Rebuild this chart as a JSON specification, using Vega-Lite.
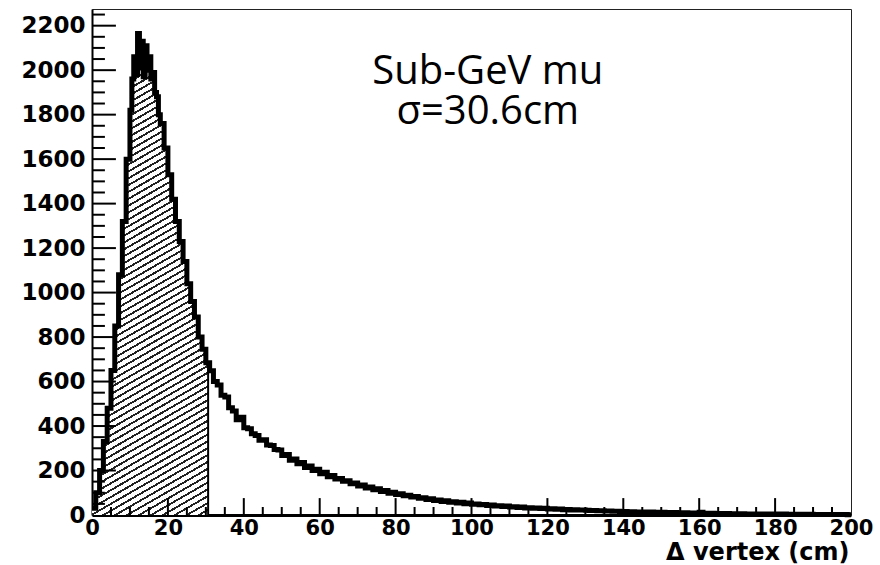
{
  "$schema": "https://vega.github.io/schema/vega-lite/v6.json",
  "width": 759,
  "height": 506,
  "autosize": {"type": "none"},
  "padding": {"left": 92, "top": 9, "right": 29, "bottom": 50},
  "background": "white",
  "config": {
    "view": {"stroke": "#222", "strokeWidth": 1},
    "axis": {"grid": false},
    "rule": {"color": "#000", "strokeWidth": 2}
  },
  "data": {"values": [
      {"d": 0, "n": 30}, {"d": 1, "n": 100}, {"d": 2, "n": 200}, {"d": 3, "n": 330}, {"d": 4, "n": 480},
      {"d": 5, "n": 650}, {"d": 6, "n": 850}, {"d": 7, "n": 1080}, {"d": 8, "n": 1320}, {"d": 9, "n": 1600},
      {"d": 10, "n": 1820}, {"d": 10.5, "n": 1960}, {"d": 11, "n": 2060}, {"d": 11.5, "n": 1980},
      {"d": 12, "n": 2165}, {"d": 12.5, "n": 2010}, {"d": 13, "n": 2130}, {"d": 13.5, "n": 1970},
      {"d": 14, "n": 2110}, {"d": 14.5, "n": 2000}, {"d": 15, "n": 2060}, {"d": 15.5, "n": 1960},
      {"d": 16, "n": 1990}, {"d": 16.5, "n": 1900}, {"d": 17, "n": 1880}, {"d": 17.5, "n": 1800},
      {"d": 18, "n": 1760}, {"d": 19, "n": 1650}, {"d": 20, "n": 1530}, {"d": 21, "n": 1420},
      {"d": 22, "n": 1320}, {"d": 23, "n": 1230}, {"d": 24, "n": 1140}, {"d": 25, "n": 1040},
      {"d": 26, "n": 960}, {"d": 27, "n": 890}, {"d": 28, "n": 800}, {"d": 29, "n": 745},
      {"d": 30, "n": 685}, {"d": 30.6, "n": 685}, {"d": 31, "n": 648}, {"d": 32, "n": 600},
      {"d": 33, "n": 585}, {"d": 34, "n": 538}, {"d": 35, "n": 530}, {"d": 36, "n": 482},
      {"d": 37, "n": 468}, {"d": 38, "n": 428}, {"d": 39, "n": 440}, {"d": 40, "n": 392},
      {"d": 41, "n": 388}, {"d": 42, "n": 365}, {"d": 43, "n": 358}, {"d": 44, "n": 336},
      {"d": 45, "n": 338}, {"d": 46, "n": 315}, {"d": 47, "n": 312}, {"d": 48, "n": 294},
      {"d": 49, "n": 292}, {"d": 50, "n": 268}, {"d": 51, "n": 272}, {"d": 52, "n": 246},
      {"d": 53, "n": 252}, {"d": 54, "n": 230}, {"d": 55, "n": 236}, {"d": 56, "n": 214},
      {"d": 57, "n": 220}, {"d": 58, "n": 200}, {"d": 59, "n": 206}, {"d": 60, "n": 186},
      {"d": 61, "n": 192}, {"d": 62, "n": 172}, {"d": 63, "n": 178}, {"d": 64, "n": 162},
      {"d": 65, "n": 164}, {"d": 66, "n": 152}, {"d": 67, "n": 154}, {"d": 68, "n": 141},
      {"d": 69, "n": 144}, {"d": 70, "n": 130}, {"d": 71, "n": 135}, {"d": 72, "n": 121},
      {"d": 73, "n": 126}, {"d": 74, "n": 114}, {"d": 75, "n": 118}, {"d": 76, "n": 106},
      {"d": 77, "n": 110}, {"d": 78, "n": 98}, {"d": 79, "n": 102}, {"d": 80, "n": 92},
      {"d": 81, "n": 95}, {"d": 82, "n": 86}, {"d": 83, "n": 89}, {"d": 84, "n": 81},
      {"d": 85, "n": 83}, {"d": 86, "n": 75}, {"d": 87, "n": 78}, {"d": 88, "n": 70},
      {"d": 89, "n": 73}, {"d": 90, "n": 65}, {"d": 91, "n": 68}, {"d": 92, "n": 61},
      {"d": 93, "n": 64}, {"d": 94, "n": 57}, {"d": 95, "n": 60}, {"d": 96, "n": 54},
      {"d": 97, "n": 57}, {"d": 98, "n": 51}, {"d": 99, "n": 54}, {"d": 100, "n": 48},
      {"d": 101, "n": 50}, {"d": 102, "n": 46}, {"d": 103, "n": 47}, {"d": 104, "n": 43},
      {"d": 105, "n": 45}, {"d": 106, "n": 40}, {"d": 107, "n": 42}, {"d": 108, "n": 38},
      {"d": 109, "n": 40}, {"d": 110, "n": 36}, {"d": 111, "n": 37}, {"d": 112, "n": 34},
      {"d": 113, "n": 36}, {"d": 114, "n": 32}, {"d": 115, "n": 33}, {"d": 116, "n": 30},
      {"d": 117, "n": 32}, {"d": 118, "n": 29}, {"d": 119, "n": 30}, {"d": 120, "n": 27},
      {"d": 121, "n": 28}, {"d": 122, "n": 26}, {"d": 123, "n": 27}, {"d": 124, "n": 24},
      {"d": 125, "n": 25}, {"d": 126, "n": 23}, {"d": 127, "n": 24}, {"d": 128, "n": 22},
      {"d": 129, "n": 23}, {"d": 130, "n": 21}, {"d": 131, "n": 20}, {"d": 132, "n": 20},
      {"d": 133, "n": 19}, {"d": 134, "n": 19}, {"d": 135, "n": 18}, {"d": 136, "n": 18},
      {"d": 137, "n": 17}, {"d": 138, "n": 17}, {"d": 139, "n": 16}, {"d": 140, "n": 16},
      {"d": 141, "n": 15}, {"d": 142, "n": 15}, {"d": 143, "n": 14}, {"d": 144, "n": 14},
      {"d": 145, "n": 14}, {"d": 146, "n": 13}, {"d": 147, "n": 13}, {"d": 148, "n": 12},
      {"d": 149, "n": 12}, {"d": 150, "n": 12}, {"d": 151, "n": 11}, {"d": 152, "n": 11},
      {"d": 153, "n": 11}, {"d": 154, "n": 10}, {"d": 155, "n": 10}, {"d": 156, "n": 10},
      {"d": 157, "n": 9}, {"d": 158, "n": 9}, {"d": 159, "n": 9}, {"d": 160, "n": 12},
      {"d": 161, "n": 8}, {"d": 162, "n": 8}, {"d": 163, "n": 8}, {"d": 164, "n": 7},
      {"d": 165, "n": 7}, {"d": 166, "n": 7}, {"d": 167, "n": 7}, {"d": 168, "n": 6},
      {"d": 169, "n": 6}, {"d": 170, "n": 6}, {"d": 171, "n": 6}, {"d": 172, "n": 5},
      {"d": 173, "n": 5}, {"d": 174, "n": 5}, {"d": 175, "n": 5}, {"d": 176, "n": 5},
      {"d": 177, "n": 4}, {"d": 178, "n": 4}, {"d": 179, "n": 4}, {"d": 180, "n": 4},
      {"d": 181, "n": 4}, {"d": 182, "n": 4}, {"d": 183, "n": 3}, {"d": 184, "n": 3},
      {"d": 185, "n": 3}, {"d": 186, "n": 3}, {"d": 187, "n": 3}, {"d": 188, "n": 3},
      {"d": 189, "n": 3}, {"d": 190, "n": 2}, {"d": 191, "n": 2}, {"d": 192, "n": 2},
      {"d": 193, "n": 2}, {"d": 194, "n": 2}, {"d": 195, "n": 2}, {"d": 196, "n": 2},
      {"d": 197, "n": 2}, {"d": 198, "n": 2}, {"d": 199, "n": 1}, {"d": 200, "n": 1}
  ]},
  "layer": [
    {
      "transform": [{"filter": "datum.d <= 30.6"}],
      "mark": {
        "type": "area",
        "interpolate": "step-after",
        "fill": {
          "gradient": "linear",
          "x1": 0, "y1": 0, "x2": 0.155, "y2": 1.118,
          "stops": [
            {"offset":0,"color":"#222"},{"offset":0.004,"color":"#222"},{"offset":0.004,"color":"#fff"},{"offset":0.0125,"color":"#fff"},
            {"offset":0.0125,"color":"#222"},{"offset":0.0165,"color":"#222"},{"offset":0.0165,"color":"#fff"},{"offset":0.025,"color":"#fff"},
            {"offset":0.025,"color":"#222"},{"offset":0.029,"color":"#222"},{"offset":0.029,"color":"#fff"},{"offset":0.0375,"color":"#fff"},
            {"offset":0.0375,"color":"#222"},{"offset":0.0415,"color":"#222"},{"offset":0.0415,"color":"#fff"},{"offset":0.05,"color":"#fff"},
            {"offset":0.05,"color":"#222"},{"offset":0.054,"color":"#222"},{"offset":0.054,"color":"#fff"},{"offset":0.0625,"color":"#fff"},
            {"offset":0.0625,"color":"#222"},{"offset":0.0665,"color":"#222"},{"offset":0.0665,"color":"#fff"},{"offset":0.075,"color":"#fff"},
            {"offset":0.075,"color":"#222"},{"offset":0.079,"color":"#222"},{"offset":0.079,"color":"#fff"},{"offset":0.0875,"color":"#fff"},
            {"offset":0.0875,"color":"#222"},{"offset":0.0915,"color":"#222"},{"offset":0.0915,"color":"#fff"},{"offset":0.1,"color":"#fff"},
            {"offset":0.1,"color":"#222"},{"offset":0.104,"color":"#222"},{"offset":0.104,"color":"#fff"},{"offset":0.1125,"color":"#fff"},
            {"offset":0.1125,"color":"#222"},{"offset":0.1165,"color":"#222"},{"offset":0.1165,"color":"#fff"},{"offset":0.125,"color":"#fff"},
            {"offset":0.125,"color":"#222"},{"offset":0.129,"color":"#222"},{"offset":0.129,"color":"#fff"},{"offset":0.1375,"color":"#fff"},
            {"offset":0.1375,"color":"#222"},{"offset":0.1415,"color":"#222"},{"offset":0.1415,"color":"#fff"},{"offset":0.15,"color":"#fff"},
            {"offset":0.15,"color":"#222"},{"offset":0.154,"color":"#222"},{"offset":0.154,"color":"#fff"},{"offset":0.1625,"color":"#fff"},
            {"offset":0.1625,"color":"#222"},{"offset":0.1665,"color":"#222"},{"offset":0.1665,"color":"#fff"},{"offset":0.175,"color":"#fff"},
            {"offset":0.175,"color":"#222"},{"offset":0.179,"color":"#222"},{"offset":0.179,"color":"#fff"},{"offset":0.1875,"color":"#fff"},
            {"offset":0.1875,"color":"#222"},{"offset":0.1915,"color":"#222"},{"offset":0.1915,"color":"#fff"},{"offset":0.2,"color":"#fff"},
            {"offset":0.2,"color":"#222"},{"offset":0.204,"color":"#222"},{"offset":0.204,"color":"#fff"},{"offset":0.2125,"color":"#fff"},
            {"offset":0.2125,"color":"#222"},{"offset":0.2165,"color":"#222"},{"offset":0.2165,"color":"#fff"},{"offset":0.225,"color":"#fff"},
            {"offset":0.225,"color":"#222"},{"offset":0.229,"color":"#222"},{"offset":0.229,"color":"#fff"},{"offset":0.2375,"color":"#fff"},
            {"offset":0.2375,"color":"#222"},{"offset":0.2415,"color":"#222"},{"offset":0.2415,"color":"#fff"},{"offset":0.25,"color":"#fff"},
            {"offset":0.25,"color":"#222"},{"offset":0.254,"color":"#222"},{"offset":0.254,"color":"#fff"},{"offset":0.2625,"color":"#fff"},
            {"offset":0.2625,"color":"#222"},{"offset":0.2665,"color":"#222"},{"offset":0.2665,"color":"#fff"},{"offset":0.275,"color":"#fff"},
            {"offset":0.275,"color":"#222"},{"offset":0.279,"color":"#222"},{"offset":0.279,"color":"#fff"},{"offset":0.2875,"color":"#fff"},
            {"offset":0.2875,"color":"#222"},{"offset":0.2915,"color":"#222"},{"offset":0.2915,"color":"#fff"},{"offset":0.3,"color":"#fff"},
            {"offset":0.3,"color":"#222"},{"offset":0.304,"color":"#222"},{"offset":0.304,"color":"#fff"},{"offset":0.3125,"color":"#fff"},
            {"offset":0.3125,"color":"#222"},{"offset":0.3165,"color":"#222"},{"offset":0.3165,"color":"#fff"},{"offset":0.325,"color":"#fff"},
            {"offset":0.325,"color":"#222"},{"offset":0.329,"color":"#222"},{"offset":0.329,"color":"#fff"},{"offset":0.3375,"color":"#fff"},
            {"offset":0.3375,"color":"#222"},{"offset":0.3415,"color":"#222"},{"offset":0.3415,"color":"#fff"},{"offset":0.35,"color":"#fff"},
            {"offset":0.35,"color":"#222"},{"offset":0.354,"color":"#222"},{"offset":0.354,"color":"#fff"},{"offset":0.3625,"color":"#fff"},
            {"offset":0.3625,"color":"#222"},{"offset":0.3665,"color":"#222"},{"offset":0.3665,"color":"#fff"},{"offset":0.375,"color":"#fff"},
            {"offset":0.375,"color":"#222"},{"offset":0.379,"color":"#222"},{"offset":0.379,"color":"#fff"},{"offset":0.3875,"color":"#fff"},
            {"offset":0.3875,"color":"#222"},{"offset":0.3915,"color":"#222"},{"offset":0.3915,"color":"#fff"},{"offset":0.4,"color":"#fff"},
            {"offset":0.4,"color":"#222"},{"offset":0.404,"color":"#222"},{"offset":0.404,"color":"#fff"},{"offset":0.4125,"color":"#fff"},
            {"offset":0.4125,"color":"#222"},{"offset":0.4165,"color":"#222"},{"offset":0.4165,"color":"#fff"},{"offset":0.425,"color":"#fff"},
            {"offset":0.425,"color":"#222"},{"offset":0.429,"color":"#222"},{"offset":0.429,"color":"#fff"},{"offset":0.4375,"color":"#fff"},
            {"offset":0.4375,"color":"#222"},{"offset":0.4415,"color":"#222"},{"offset":0.4415,"color":"#fff"},{"offset":0.45,"color":"#fff"},
            {"offset":0.45,"color":"#222"},{"offset":0.454,"color":"#222"},{"offset":0.454,"color":"#fff"},{"offset":0.4625,"color":"#fff"},
            {"offset":0.4625,"color":"#222"},{"offset":0.4665,"color":"#222"},{"offset":0.4665,"color":"#fff"},{"offset":0.475,"color":"#fff"},
            {"offset":0.475,"color":"#222"},{"offset":0.479,"color":"#222"},{"offset":0.479,"color":"#fff"},{"offset":0.4875,"color":"#fff"},
            {"offset":0.4875,"color":"#222"},{"offset":0.4915,"color":"#222"},{"offset":0.4915,"color":"#fff"},{"offset":0.5,"color":"#fff"},
            {"offset":0.5,"color":"#222"},{"offset":0.504,"color":"#222"},{"offset":0.504,"color":"#fff"},{"offset":0.5125,"color":"#fff"},
            {"offset":0.5125,"color":"#222"},{"offset":0.5165,"color":"#222"},{"offset":0.5165,"color":"#fff"},{"offset":0.525,"color":"#fff"},
            {"offset":0.525,"color":"#222"},{"offset":0.529,"color":"#222"},{"offset":0.529,"color":"#fff"},{"offset":0.5375,"color":"#fff"},
            {"offset":0.5375,"color":"#222"},{"offset":0.5415,"color":"#222"},{"offset":0.5415,"color":"#fff"},{"offset":0.55,"color":"#fff"},
            {"offset":0.55,"color":"#222"},{"offset":0.554,"color":"#222"},{"offset":0.554,"color":"#fff"},{"offset":0.5625,"color":"#fff"},
            {"offset":0.5625,"color":"#222"},{"offset":0.5665,"color":"#222"},{"offset":0.5665,"color":"#fff"},{"offset":0.575,"color":"#fff"},
            {"offset":0.575,"color":"#222"},{"offset":0.579,"color":"#222"},{"offset":0.579,"color":"#fff"},{"offset":0.5875,"color":"#fff"},
            {"offset":0.5875,"color":"#222"},{"offset":0.5915,"color":"#222"},{"offset":0.5915,"color":"#fff"},{"offset":0.6,"color":"#fff"},
            {"offset":0.6,"color":"#222"},{"offset":0.604,"color":"#222"},{"offset":0.604,"color":"#fff"},{"offset":0.6125,"color":"#fff"},
            {"offset":0.6125,"color":"#222"},{"offset":0.6165,"color":"#222"},{"offset":0.6165,"color":"#fff"},{"offset":0.625,"color":"#fff"},
            {"offset":0.625,"color":"#222"},{"offset":0.629,"color":"#222"},{"offset":0.629,"color":"#fff"},{"offset":0.6375,"color":"#fff"},
            {"offset":0.6375,"color":"#222"},{"offset":0.6415,"color":"#222"},{"offset":0.6415,"color":"#fff"},{"offset":0.65,"color":"#fff"},
            {"offset":0.65,"color":"#222"},{"offset":0.654,"color":"#222"},{"offset":0.654,"color":"#fff"},{"offset":0.6625,"color":"#fff"},
            {"offset":0.6625,"color":"#222"},{"offset":0.6665,"color":"#222"},{"offset":0.6665,"color":"#fff"},{"offset":0.675,"color":"#fff"},
            {"offset":0.675,"color":"#222"},{"offset":0.679,"color":"#222"},{"offset":0.679,"color":"#fff"},{"offset":0.6875,"color":"#fff"},
            {"offset":0.6875,"color":"#222"},{"offset":0.6915,"color":"#222"},{"offset":0.6915,"color":"#fff"},{"offset":0.7,"color":"#fff"},
            {"offset":0.7,"color":"#222"},{"offset":0.704,"color":"#222"},{"offset":0.704,"color":"#fff"},{"offset":0.7125,"color":"#fff"},
            {"offset":0.7125,"color":"#222"},{"offset":0.7165,"color":"#222"},{"offset":0.7165,"color":"#fff"},{"offset":0.725,"color":"#fff"},
            {"offset":0.725,"color":"#222"},{"offset":0.729,"color":"#222"},{"offset":0.729,"color":"#fff"},{"offset":0.7375,"color":"#fff"},
            {"offset":0.7375,"color":"#222"},{"offset":0.7415,"color":"#222"},{"offset":0.7415,"color":"#fff"},{"offset":0.75,"color":"#fff"},
            {"offset":0.75,"color":"#222"},{"offset":0.754,"color":"#222"},{"offset":0.754,"color":"#fff"},{"offset":0.7625,"color":"#fff"},
            {"offset":0.7625,"color":"#222"},{"offset":0.7665,"color":"#222"},{"offset":0.7665,"color":"#fff"},{"offset":0.775,"color":"#fff"},
            {"offset":0.775,"color":"#222"},{"offset":0.779,"color":"#222"},{"offset":0.779,"color":"#fff"},{"offset":0.7875,"color":"#fff"},
            {"offset":0.7875,"color":"#222"},{"offset":0.7915,"color":"#222"},{"offset":0.7915,"color":"#fff"},{"offset":0.8,"color":"#fff"},
            {"offset":0.8,"color":"#222"},{"offset":0.804,"color":"#222"},{"offset":0.804,"color":"#fff"},{"offset":0.8125,"color":"#fff"},
            {"offset":0.8125,"color":"#222"},{"offset":0.8165,"color":"#222"},{"offset":0.8165,"color":"#fff"},{"offset":0.825,"color":"#fff"},
            {"offset":0.825,"color":"#222"},{"offset":0.829,"color":"#222"},{"offset":0.829,"color":"#fff"},{"offset":0.8375,"color":"#fff"},
            {"offset":0.8375,"color":"#222"},{"offset":0.8415,"color":"#222"},{"offset":0.8415,"color":"#fff"},{"offset":0.85,"color":"#fff"},
            {"offset":0.85,"color":"#222"},{"offset":0.854,"color":"#222"},{"offset":0.854,"color":"#fff"},{"offset":0.8625,"color":"#fff"},
            {"offset":0.8625,"color":"#222"},{"offset":0.8665,"color":"#222"},{"offset":0.8665,"color":"#fff"},{"offset":0.875,"color":"#fff"},
            {"offset":0.875,"color":"#222"},{"offset":0.879,"color":"#222"},{"offset":0.879,"color":"#fff"},{"offset":0.8875,"color":"#fff"},
            {"offset":0.8875,"color":"#222"},{"offset":0.8915,"color":"#222"},{"offset":0.8915,"color":"#fff"},{"offset":0.9,"color":"#fff"},
            {"offset":0.9,"color":"#222"},{"offset":0.904,"color":"#222"},{"offset":0.904,"color":"#fff"},{"offset":0.9125,"color":"#fff"},
            {"offset":0.9125,"color":"#222"},{"offset":0.9165,"color":"#222"},{"offset":0.9165,"color":"#fff"},{"offset":0.925,"color":"#fff"},
            {"offset":0.925,"color":"#222"},{"offset":0.929,"color":"#222"},{"offset":0.929,"color":"#fff"},{"offset":0.9375,"color":"#fff"},
            {"offset":0.9375,"color":"#222"},{"offset":0.9415,"color":"#222"},{"offset":0.9415,"color":"#fff"},{"offset":0.95,"color":"#fff"},
            {"offset":0.95,"color":"#222"},{"offset":0.954,"color":"#222"},{"offset":0.954,"color":"#fff"},{"offset":0.9625,"color":"#fff"},
            {"offset":0.9625,"color":"#222"},{"offset":0.9665,"color":"#222"},{"offset":0.9665,"color":"#fff"},{"offset":0.975,"color":"#fff"},
            {"offset":0.975,"color":"#222"},{"offset":0.979,"color":"#222"},{"offset":0.979,"color":"#fff"},{"offset":0.9875,"color":"#fff"},
            {"offset":0.9875,"color":"#222"},{"offset":0.9915,"color":"#222"},{"offset":0.9915,"color":"#fff"},{"offset":1,"color":"#fff"}
          ]
        }
      },
      "encoding": {
        "x": {
          "field": "d", "type": "quantitative",
          "scale": {"domain": [0, 200], "nice": false, "zero": false},
          "axis": {
            "orient": "bottom",
            "values": [0, 20, 40, 60, 80, 100, 120, 140, 160, 180, 200],
            "ticks": false, "labelPadding": 2, "labelFont": "DejaVu Sans", "labelFontWeight": "bold",
            "labelFontSize": 21, "labelColor": "#000", "labelFlush": false, "labelOverlap": false,
            "domainColor": "#000", "domainWidth": 3,
            "title": "Δ vertex (cm)", "titleFont": "DejaVu Sans", "titleFontWeight": "bold", "titleFontSize": 24,
            "titleColor": "#000", "titleAnchor": "end", "titleAlign": "right", "titleBaseline": "alphabetic",
            "titleX": 757, "titleY": 44
          }
        },
        "y": {
          "field": "n", "type": "quantitative",
          "scale": {"domain": [0, 2275], "nice": false},
          "axis": {
            "orient": "left", "format": "d",
            "values": [0, 200, 400, 600, 800, 1000, 1200, 1400, 1600, 1800, 2000, 2200],
            "ticks": false, "labelPadding": 7, "labelFont": "DejaVu Sans", "labelFontWeight": "bold",
            "labelFontSize": 23, "labelColor": "#000", "labelFlush": false, "labelOverlap": false,
            "domainColor": "#000", "domainWidth": 2, "title": null
          }
        }
      }
    },
    {
      "mark": {"type": "line", "interpolate": "step-after", "color": "#000", "strokeWidth": 5},
      "encoding": {
        "x": {"field": "d", "type": "quantitative"},
        "y": {"field": "n", "type": "quantitative"}
      }
    },
    {
      "transform": [{"filter": "datum.d == 30.6"}],
      "mark": {"type": "rule", "color": "#000", "strokeWidth": 2},
      "encoding": {
        "x": {"field": "d", "type": "quantitative"},
        "y": {"field": "n", "type": "quantitative"},
        "y2": {"datum": 0}
      }
    },
    {"data":{"values":[{}]},"mark":"rule","encoding":{"x":{"datum":20},"y":{"datum":0},"y2":{"datum":76}}},
    {"data":{"values":[{}]},"mark":"rule","encoding":{"x":{"datum":40},"y":{"datum":0},"y2":{"datum":76}}},
    {"data":{"values":[{}]},"mark":"rule","encoding":{"x":{"datum":60},"y":{"datum":0},"y2":{"datum":76}}},
    {"data":{"values":[{}]},"mark":"rule","encoding":{"x":{"datum":80},"y":{"datum":0},"y2":{"datum":76}}},
    {"data":{"values":[{}]},"mark":"rule","encoding":{"x":{"datum":100},"y":{"datum":0},"y2":{"datum":76}}},
    {"data":{"values":[{}]},"mark":"rule","encoding":{"x":{"datum":120},"y":{"datum":0},"y2":{"datum":76}}},
    {"data":{"values":[{}]},"mark":"rule","encoding":{"x":{"datum":140},"y":{"datum":0},"y2":{"datum":76}}},
    {"data":{"values":[{}]},"mark":"rule","encoding":{"x":{"datum":160},"y":{"datum":0},"y2":{"datum":76}}},
    {"data":{"values":[{}]},"mark":"rule","encoding":{"x":{"datum":180},"y":{"datum":0},"y2":{"datum":76}}},
    {"data":{"values":[{}]},"mark":"rule","encoding":{"x":{"datum":5},"y":{"datum":0},"y2":{"datum":36}}},
    {"data":{"values":[{}]},"mark":"rule","encoding":{"x":{"datum":10},"y":{"datum":0},"y2":{"datum":36}}},
    {"data":{"values":[{}]},"mark":"rule","encoding":{"x":{"datum":15},"y":{"datum":0},"y2":{"datum":36}}},
    {"data":{"values":[{}]},"mark":"rule","encoding":{"x":{"datum":25},"y":{"datum":0},"y2":{"datum":36}}},
    {"data":{"values":[{}]},"mark":"rule","encoding":{"x":{"datum":30},"y":{"datum":0},"y2":{"datum":36}}},
    {"data":{"values":[{}]},"mark":"rule","encoding":{"x":{"datum":35},"y":{"datum":0},"y2":{"datum":36}}},
    {"data":{"values":[{}]},"mark":"rule","encoding":{"x":{"datum":45},"y":{"datum":0},"y2":{"datum":36}}},
    {"data":{"values":[{}]},"mark":"rule","encoding":{"x":{"datum":50},"y":{"datum":0},"y2":{"datum":36}}},
    {"data":{"values":[{}]},"mark":"rule","encoding":{"x":{"datum":55},"y":{"datum":0},"y2":{"datum":36}}},
    {"data":{"values":[{}]},"mark":"rule","encoding":{"x":{"datum":65},"y":{"datum":0},"y2":{"datum":36}}},
    {"data":{"values":[{}]},"mark":"rule","encoding":{"x":{"datum":70},"y":{"datum":0},"y2":{"datum":36}}},
    {"data":{"values":[{}]},"mark":"rule","encoding":{"x":{"datum":75},"y":{"datum":0},"y2":{"datum":36}}},
    {"data":{"values":[{}]},"mark":"rule","encoding":{"x":{"datum":85},"y":{"datum":0},"y2":{"datum":36}}},
    {"data":{"values":[{}]},"mark":"rule","encoding":{"x":{"datum":90},"y":{"datum":0},"y2":{"datum":36}}},
    {"data":{"values":[{}]},"mark":"rule","encoding":{"x":{"datum":95},"y":{"datum":0},"y2":{"datum":36}}},
    {"data":{"values":[{}]},"mark":"rule","encoding":{"x":{"datum":105},"y":{"datum":0},"y2":{"datum":36}}},
    {"data":{"values":[{}]},"mark":"rule","encoding":{"x":{"datum":110},"y":{"datum":0},"y2":{"datum":36}}},
    {"data":{"values":[{}]},"mark":"rule","encoding":{"x":{"datum":115},"y":{"datum":0},"y2":{"datum":36}}},
    {"data":{"values":[{}]},"mark":"rule","encoding":{"x":{"datum":125},"y":{"datum":0},"y2":{"datum":36}}},
    {"data":{"values":[{}]},"mark":"rule","encoding":{"x":{"datum":130},"y":{"datum":0},"y2":{"datum":36}}},
    {"data":{"values":[{}]},"mark":"rule","encoding":{"x":{"datum":135},"y":{"datum":0},"y2":{"datum":36}}},
    {"data":{"values":[{}]},"mark":"rule","encoding":{"x":{"datum":145},"y":{"datum":0},"y2":{"datum":36}}},
    {"data":{"values":[{}]},"mark":"rule","encoding":{"x":{"datum":150},"y":{"datum":0},"y2":{"datum":36}}},
    {"data":{"values":[{}]},"mark":"rule","encoding":{"x":{"datum":155},"y":{"datum":0},"y2":{"datum":36}}},
    {"data":{"values":[{}]},"mark":"rule","encoding":{"x":{"datum":165},"y":{"datum":0},"y2":{"datum":36}}},
    {"data":{"values":[{}]},"mark":"rule","encoding":{"x":{"datum":170},"y":{"datum":0},"y2":{"datum":36}}},
    {"data":{"values":[{}]},"mark":"rule","encoding":{"x":{"datum":175},"y":{"datum":0},"y2":{"datum":36}}},
    {"data":{"values":[{}]},"mark":"rule","encoding":{"x":{"datum":185},"y":{"datum":0},"y2":{"datum":36}}},
    {"data":{"values":[{}]},"mark":"rule","encoding":{"x":{"datum":190},"y":{"datum":0},"y2":{"datum":36}}},
    {"data":{"values":[{}]},"mark":"rule","encoding":{"x":{"datum":195},"y":{"datum":0},"y2":{"datum":36}}},
    {"data":{"values":[{}]},"mark":"rule","encoding":{"y":{"datum":200},"x":{"datum":0},"x2":{"datum":6.3}}},
    {"data":{"values":[{}]},"mark":"rule","encoding":{"y":{"datum":400},"x":{"datum":0},"x2":{"datum":6.3}}},
    {"data":{"values":[{}]},"mark":"rule","encoding":{"y":{"datum":600},"x":{"datum":0},"x2":{"datum":6.3}}},
    {"data":{"values":[{}]},"mark":"rule","encoding":{"y":{"datum":800},"x":{"datum":0},"x2":{"datum":6.3}}},
    {"data":{"values":[{}]},"mark":"rule","encoding":{"y":{"datum":1000},"x":{"datum":0},"x2":{"datum":6.3}}},
    {"data":{"values":[{}]},"mark":"rule","encoding":{"y":{"datum":1200},"x":{"datum":0},"x2":{"datum":6.3}}},
    {"data":{"values":[{}]},"mark":"rule","encoding":{"y":{"datum":1400},"x":{"datum":0},"x2":{"datum":6.3}}},
    {"data":{"values":[{}]},"mark":"rule","encoding":{"y":{"datum":1600},"x":{"datum":0},"x2":{"datum":6.3}}},
    {"data":{"values":[{}]},"mark":"rule","encoding":{"y":{"datum":1800},"x":{"datum":0},"x2":{"datum":6.3}}},
    {"data":{"values":[{}]},"mark":"rule","encoding":{"y":{"datum":2000},"x":{"datum":0},"x2":{"datum":6.3}}},
    {"data":{"values":[{}]},"mark":"rule","encoding":{"y":{"datum":2200},"x":{"datum":0},"x2":{"datum":6.3}}},
    {"data":{"values":[{}]},"mark":"rule","encoding":{"y":{"datum":50},"x":{"datum":0},"x2":{"datum":3.4}}},
    {"data":{"values":[{}]},"mark":"rule","encoding":{"y":{"datum":100},"x":{"datum":0},"x2":{"datum":3.4}}},
    {"data":{"values":[{}]},"mark":"rule","encoding":{"y":{"datum":150},"x":{"datum":0},"x2":{"datum":3.4}}},
    {"data":{"values":[{}]},"mark":"rule","encoding":{"y":{"datum":250},"x":{"datum":0},"x2":{"datum":3.4}}},
    {"data":{"values":[{}]},"mark":"rule","encoding":{"y":{"datum":300},"x":{"datum":0},"x2":{"datum":3.4}}},
    {"data":{"values":[{}]},"mark":"rule","encoding":{"y":{"datum":350},"x":{"datum":0},"x2":{"datum":3.4}}},
    {"data":{"values":[{}]},"mark":"rule","encoding":{"y":{"datum":450},"x":{"datum":0},"x2":{"datum":3.4}}},
    {"data":{"values":[{}]},"mark":"rule","encoding":{"y":{"datum":500},"x":{"datum":0},"x2":{"datum":3.4}}},
    {"data":{"values":[{}]},"mark":"rule","encoding":{"y":{"datum":550},"x":{"datum":0},"x2":{"datum":3.4}}},
    {"data":{"values":[{}]},"mark":"rule","encoding":{"y":{"datum":650},"x":{"datum":0},"x2":{"datum":3.4}}},
    {"data":{"values":[{}]},"mark":"rule","encoding":{"y":{"datum":700},"x":{"datum":0},"x2":{"datum":3.4}}},
    {"data":{"values":[{}]},"mark":"rule","encoding":{"y":{"datum":750},"x":{"datum":0},"x2":{"datum":3.4}}},
    {"data":{"values":[{}]},"mark":"rule","encoding":{"y":{"datum":850},"x":{"datum":0},"x2":{"datum":3.4}}},
    {"data":{"values":[{}]},"mark":"rule","encoding":{"y":{"datum":900},"x":{"datum":0},"x2":{"datum":3.4}}},
    {"data":{"values":[{}]},"mark":"rule","encoding":{"y":{"datum":950},"x":{"datum":0},"x2":{"datum":3.4}}},
    {"data":{"values":[{}]},"mark":"rule","encoding":{"y":{"datum":1050},"x":{"datum":0},"x2":{"datum":3.4}}},
    {"data":{"values":[{}]},"mark":"rule","encoding":{"y":{"datum":1100},"x":{"datum":0},"x2":{"datum":3.4}}},
    {"data":{"values":[{}]},"mark":"rule","encoding":{"y":{"datum":1150},"x":{"datum":0},"x2":{"datum":3.4}}},
    {"data":{"values":[{}]},"mark":"rule","encoding":{"y":{"datum":1250},"x":{"datum":0},"x2":{"datum":3.4}}},
    {"data":{"values":[{}]},"mark":"rule","encoding":{"y":{"datum":1300},"x":{"datum":0},"x2":{"datum":3.4}}},
    {"data":{"values":[{}]},"mark":"rule","encoding":{"y":{"datum":1350},"x":{"datum":0},"x2":{"datum":3.4}}},
    {"data":{"values":[{}]},"mark":"rule","encoding":{"y":{"datum":1450},"x":{"datum":0},"x2":{"datum":3.4}}},
    {"data":{"values":[{}]},"mark":"rule","encoding":{"y":{"datum":1500},"x":{"datum":0},"x2":{"datum":3.4}}},
    {"data":{"values":[{}]},"mark":"rule","encoding":{"y":{"datum":1550},"x":{"datum":0},"x2":{"datum":3.4}}},
    {"data":{"values":[{}]},"mark":"rule","encoding":{"y":{"datum":1650},"x":{"datum":0},"x2":{"datum":3.4}}},
    {"data":{"values":[{}]},"mark":"rule","encoding":{"y":{"datum":1700},"x":{"datum":0},"x2":{"datum":3.4}}},
    {"data":{"values":[{}]},"mark":"rule","encoding":{"y":{"datum":1750},"x":{"datum":0},"x2":{"datum":3.4}}},
    {"data":{"values":[{}]},"mark":"rule","encoding":{"y":{"datum":1850},"x":{"datum":0},"x2":{"datum":3.4}}},
    {"data":{"values":[{}]},"mark":"rule","encoding":{"y":{"datum":1900},"x":{"datum":0},"x2":{"datum":3.4}}},
    {"data":{"values":[{}]},"mark":"rule","encoding":{"y":{"datum":1950},"x":{"datum":0},"x2":{"datum":3.4}}},
    {"data":{"values":[{}]},"mark":"rule","encoding":{"y":{"datum":2050},"x":{"datum":0},"x2":{"datum":3.4}}},
    {"data":{"values":[{}]},"mark":"rule","encoding":{"y":{"datum":2100},"x":{"datum":0},"x2":{"datum":3.4}}},
    {"data":{"values":[{}]},"mark":"rule","encoding":{"y":{"datum":2150},"x":{"datum":0},"x2":{"datum":3.4}}},
    {"data":{"values":[{}]},"mark":"rule","encoding":{"y":{"datum":2250},"x":{"datum":0},"x2":{"datum":3.4}}},
    {
      "data": {"values": [{}]},
      "mark": {"type": "text", "text": "Sub-GeV mu", "font": "Open Sans", "fontSize": 40, "color": "#000", "align": "center", "baseline": "alphabetic"},
      "encoding": {
        "x": {"datum": 104.3, "type": "quantitative"},
        "y": {"datum": 1938, "type": "quantitative"}
      }
    },
    {
      "data": {"values": [{}]},
      "mark": {"type": "text", "text": "σ=30.6cm", "font": "Open Sans", "fontSize": 40, "color": "#000", "align": "center", "baseline": "alphabetic"},
      "encoding": {
        "x": {"datum": 104.3, "type": "quantitative"},
        "y": {"datum": 1758, "type": "quantitative"}
      }
    }
  ]
}
